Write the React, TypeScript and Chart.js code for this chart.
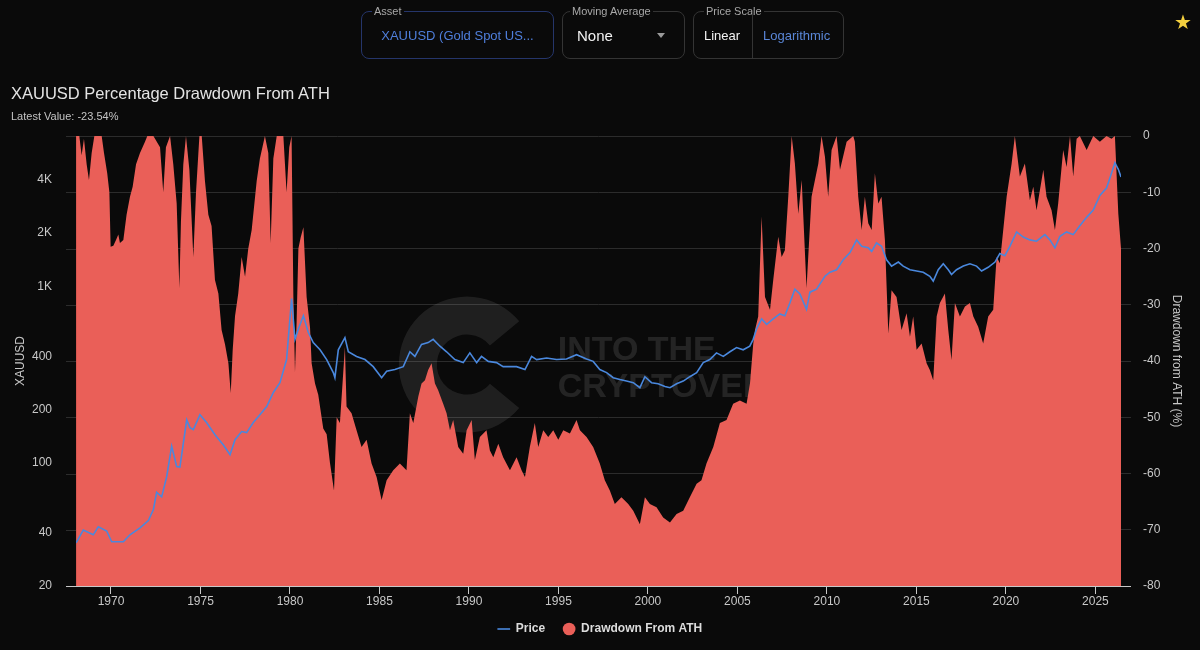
import React, { useEffect, useRef } from "react";
import { Chart, registerables } from "chart.js";

Chart.register(...registerables);

// ---------- data ----------
const ddYears = [
  1968.05, 1968.23, 1968.36, 1968.49, 1968.64, 1968.77, 1968.92, 1969.07, 1969.48, 1969.61,
  1969.79, 1969.91, 1969.98, 1970.13, 1970.28, 1970.41, 1970.5, 1970.69, 1970.87, 1971.06,
  1971.21, 1971.4, 1971.62, 1971.9, 1972.03, 1972.37, 1972.74, 1972.92, 1973.07, 1973.3,
  1973.48, 1973.67, 1973.82, 1973.91, 1974.04, 1974.19, 1974.38, 1974.6, 1974.75, 1974.94,
  1975.07, 1975.25, 1975.44, 1975.62, 1975.81, 1976.0, 1976.18, 1976.37, 1976.56, 1976.69,
  1976.8, 1976.93, 1977.11, 1977.3, 1977.49, 1977.67, 1977.86, 1978.14, 1978.32, 1978.6,
  1978.79, 1978.92, 1979.07, 1979.26, 1979.63, 1979.81, 1979.96, 1980.09, 1980.19, 1980.28,
  1980.37, 1980.47, 1980.6, 1980.75, 1980.93, 1981.12, 1981.21, 1981.4, 1981.58, 1981.86,
  1982.05, 1982.23, 1982.46, 1982.61, 1982.79, 1983.07, 1983.16, 1983.44, 1983.72, 1984.0,
  1984.28, 1984.56, 1984.84, 1985.12, 1985.4, 1985.77, 1986.14, 1986.51, 1986.7, 1986.89,
  1987.17, 1987.35, 1987.54, 1987.72, 1987.91, 1988.1, 1988.28, 1988.56, 1988.75, 1988.94,
  1989.12, 1989.4, 1989.68, 1989.87, 1990.15, 1990.33, 1990.61, 1990.98, 1991.17, 1991.36,
  1991.64, 1991.91, 1992.29, 1992.66, 1992.94, 1993.13, 1993.4, 1993.68, 1993.87, 1994.15,
  1994.43, 1994.71, 1994.99, 1995.27, 1995.64, 1996.01, 1996.2, 1996.57, 1996.94, 1997.31,
  1997.59, 1997.87, 1998.15, 1998.52, 1998.9, 1999.18, 1999.55, 1999.83, 2000.11, 2000.48,
  2000.85, 2001.23, 2001.6, 2001.97, 2002.34, 2002.72, 2002.99, 2003.27, 2003.65, 2004.02,
  2004.39, 2004.76, 2005.14, 2005.51, 2005.7, 2005.88, 2005.98, 2006.16, 2006.35, 2006.54,
  2006.82, 2007.0, 2007.28, 2007.47, 2007.65, 2007.84, 2008.03, 2008.21, 2008.4, 2008.59,
  2008.86, 2009.14, 2009.52, 2009.7, 2009.89, 2010.07, 2010.26, 2010.54, 2010.73, 2011.1,
  2011.47, 2011.56, 2011.75, 2011.94, 2012.12, 2012.31, 2012.5, 2012.68, 2012.87, 2013.05,
  2013.24, 2013.43, 2013.61, 2013.89, 2014.17, 2014.45, 2014.64, 2014.82, 2015.01, 2015.29,
  2015.57, 2015.75, 2015.94, 2016.13, 2016.31, 2016.59, 2016.78, 2016.96, 2017.15, 2017.43,
  2017.71, 2017.99, 2018.18, 2018.45, 2018.73, 2019.01, 2019.29, 2019.48, 2019.66, 2019.85,
  2020.04, 2020.32, 2020.5, 2020.78, 2021.06, 2021.34, 2021.53, 2021.71, 2021.9, 2022.09,
  2022.27, 2022.55, 2022.74, 2022.92, 2023.2, 2023.39, 2023.58, 2023.76, 2023.95, 2024.13,
  2024.51, 2024.88, 2025.25, 2025.62, 2025.9, 2026.09, 2026.28, 2026.43,
];
const ddValues = [
  0, 0, -3.4, -0.5, -5, -7.8, -3, 0, 0, -3,
  -6.6, -10, -19.7, -19.5, -18.5, -17.5, -19, -18.5, -14, -10.8,
  -9, -5, -3, -1, 0, 0, -2, -10, -2, 0,
  -5, -12, -27, -15, -5, 0, -6, -21.5, -10, 0,
  0, -8, -14, -16, -25.6, -28, -34.5, -37, -40.4, -45.7,
  -38, -32, -28, -21.5, -25, -20, -16.7, -8, -4, 0,
  -3, -19, -4, 0, 0, -10, -2, 0, -28.6, -42,
  -33, -20, -18, -16.2, -28.6, -34, -40.4, -44, -46, -52,
  -53, -58, -63, -50, -51, -37.5, -48.1, -49.3, -52.3, -55.3,
  -54, -58.2, -60.6, -64.7, -61.2, -59.4, -58.2, -59.4, -49.3, -51,
  -46.3, -44, -43.4, -41.6, -40.4, -44, -45.2, -47.6, -49.3, -52.3,
  -50.5, -55.3, -56.5, -52.3, -50.5, -57.6, -53.5, -52.3, -55.9, -57.1,
  -54.7, -57.1, -59.4, -57.1, -59.4, -60.6, -55.3, -51, -55.3, -52.3,
  -53.5, -52.3, -54, -52.3, -52.9, -50.5, -52.3, -53.5, -55.3, -58.2,
  -61.2, -63, -65.4, -64.2, -65.4, -66.6, -69, -64.2, -65.4, -66,
  -67.8, -68.7, -67.2, -66.6, -64.2, -61.8, -61.2, -58.2, -55.3, -51,
  -50.5, -47.6, -47, -47.6, -44, -37, -34.5, -32.1, -14.3, -28.6,
  -30.9, -25.6, -17.9, -21.5, -20.3, -10.8, 0, -4.9, -13.8, -7.8,
  -27, -10.8, -4.9, 0, -3.7, -10.8, -2.5, 0, -6, -1,
  0, -1, -10.8, -16.7, -10.8, -15.5, -16.7, -6.6, -12, -10.8,
  -18.5, -35.1, -27.4, -28.6, -34.5, -31.5, -35.7, -32.1, -38, -36.9,
  -40.4, -41.6, -43.4, -32.1, -29.7, -28, -34.5, -39.8, -29.7, -32.1,
  -30.3, -29.7, -32.1, -33.9, -36.9, -32.1, -30.9, -21.5, -22.6, -16.7,
  -10.8, -4.9, 0, -7.2, -4.9, -11.4, -9, -13.2, -9.6, -6,
  -10.8, -13.2, -16.7, -12, -2.5, -5.5, 0, -7.2, -0.5, 0,
  -2.5, 0, -1, 0, -0.5, 0, -13.8, -20,
];

const priceYears = [
  1968.05, 1968.45, 1969.01, 1969.29, 1969.76, 1970.04, 1970.69, 1971.06, 1971.62, 1972.09,
  1972.37, 1972.55, 1972.83, 1973.11, 1973.39, 1973.67, 1973.85, 1974.23, 1974.41, 1974.6,
  1974.97, 1975.34, 1975.81, 1976.28, 1976.65, 1976.93, 1977.3, 1977.58, 1977.95, 1978.32,
  1978.7, 1979.07, 1979.44, 1979.81, 1980.09, 1980.28, 1980.47, 1980.75, 1981.02, 1981.3,
  1981.68, 1982.05, 1982.42, 1982.51, 1982.7, 1983.07, 1983.26, 1983.72, 1984.19, 1984.65,
  1985.12, 1985.4, 1985.86, 1986.33, 1986.7, 1986.98, 1987.35, 1987.72, 1988.0, 1988.38,
  1988.75, 1989.21, 1989.68, 1990.05, 1990.43, 1990.7, 1991.08, 1991.54, 1991.91, 1992.29,
  1992.66, 1993.13, 1993.5, 1993.78, 1994.34, 1994.89, 1995.45, 1996.01, 1996.57, 1996.94,
  1997.31, 1997.69, 1998.06, 1998.43, 1998.8, 1999.18, 1999.55, 1999.83, 2000.2, 2000.57,
  2000.95, 2001.23, 2001.6, 2001.97, 2002.34, 2002.72, 2003.09, 2003.46, 2003.83, 2004.21,
  2004.58, 2004.95, 2005.32, 2005.69, 2005.88, 2006.07, 2006.35, 2006.63, 2007.0, 2007.37,
  2007.65, 2007.93, 2008.21, 2008.49, 2008.86, 2009.05, 2009.42, 2009.89, 2010.17, 2010.54,
  2010.91, 2011.29, 2011.66, 2011.94, 2012.31, 2012.5, 2012.77, 2013.05, 2013.33, 2013.61,
  2013.99, 2014.26, 2014.64, 2015.01, 2015.38, 2015.75, 2015.94, 2016.22, 2016.5, 2016.78,
  2016.96, 2017.24, 2017.62, 2017.99, 2018.36, 2018.64, 2019.01, 2019.39, 2019.66, 2019.94,
  2020.22, 2020.6, 2020.97, 2021.34, 2021.71, 2022.18, 2022.46, 2022.74, 2023.02, 2023.39,
  2023.76, 2024.13, 2024.51, 2024.88, 2025.25, 2025.62, 2025.81, 2026.09, 2026.28, 2026.43,
];
const priceValues = [
  35.1, 41.5, 39, 43.3, 41, 35.6, 35.6, 39, 42.7, 47,
  54.3, 68, 64, 83, 124, 95, 94.5, 175, 158, 154,
  187, 169, 144, 126, 111, 135, 150, 148, 169, 187,
  208, 250, 284, 384, 850, 500, 573, 680, 548, 479,
  436, 384, 324, 303, 436, 511, 425, 400, 384, 350,
  303, 330, 337, 350, 425, 400, 468, 479, 500, 457,
  425, 384, 369, 419, 369, 400, 375, 369, 350, 350,
  350, 337, 400, 384, 392, 384, 387, 409, 387, 375,
  337, 324, 303, 296, 290, 284, 266, 307, 284, 280,
  270, 266, 280, 290, 307, 324, 369, 384, 419, 400,
  425, 449, 436, 457, 500, 573, 652, 608, 652, 696,
  680, 804, 962, 905, 740, 925, 962, 1139, 1200, 1240,
  1412, 1550, 1830, 1683, 1650, 1575, 1760, 1683, 1412, 1300,
  1370, 1300, 1240, 1220, 1200, 1139, 1070, 1240, 1340, 1240,
  1165, 1240, 1300, 1340, 1300, 1220, 1280, 1370, 1530, 1490,
  1683, 2030, 1900, 1830, 1800, 1960, 1830, 1650, 1920, 2030,
  1960, 2200, 2456, 2700, 3270, 3600, 4100, 5000, 4600, 4160,
];

const xTickYears = [1970, 1975, 1980, 1985, 1990, 1995, 2000, 2005, 2010, 2015, 2020, 2025];
const priceTickValues = [20, 40, 100, 200, 400, 1000, 2000, 4000];
const X_MIN = 1968.045;
const X_MAX = 2026.43;
const PRICE_MIN = 20;
const PRICE_MAX = 7100;
const DD_MIN = -80;
const DD_MAX = 0;

// ---------- styles ----------
const BG = "#0a0a0a";
const RED = "#ea5f58";
const BLUE = "#4a88dd";
const GRID = "#2c2c2c";
const AXIS = "#c8c8c8";
const TICK = "#c8c8c8";
const FONT = "'Liberation Sans', Arial, Helvetica, sans-serif";

const edgeTicks = {
  id: "edgeTicks",
  afterDraw(chart: any) {
    const { ctx, chartArea } = chart;
    const yR = chart.scales.yDD;
    ctx.save();
    ctx.lineWidth = 1;
    ctx.strokeStyle = GRID;
    yR.ticks.forEach((t: any) => {
      const y = Math.round(yR.getPixelForValue(t.value)) + 0.5;
      ctx.beginPath();
      ctx.moveTo(chartArea.left - 10, y);
      ctx.lineTo(chartArea.left, y);
      ctx.stroke();
    });
    const yb = Math.round(chartArea.bottom) + 0.5;
    ctx.strokeStyle = AXIS;
    ctx.beginPath();
    ctx.moveTo(chartArea.left - 10, yb);
    ctx.lineTo(chartArea.right + 10, yb);
    ctx.stroke();
    ctx.restore();
  },
};

const watermark = {
  id: "watermark",
  beforeDatasetsDraw(chart: any) {
    const { ctx, chartArea } = chart;
    const w = chartArea.right - chartArea.left;
    const h = chartArea.bottom - chartArea.top;
    const cx = chartArea.left + w * 0.374;
    const cy = chartArea.top + h * 0.508;
    ctx.save();
    ctx.fillStyle = "rgba(255,255,255,0.085)";
    ctx.beginPath();
    ctx.arc(cx, cy, 68, Math.PI * 0.22, Math.PI * 1.78, false);
    ctx.arc(cx, cy, 30, Math.PI * 1.78, Math.PI * 0.22, true);
    ctx.closePath();
    ctx.fill();
    ctx.fillStyle = "rgba(255,255,255,0.11)";
    ctx.font = `bold 34px ${FONT}`;
    ctx.textBaseline = "alphabetic";
    const tx = chartArea.left + w * 0.461;
    ctx.fillText("INTO THE", tx, chartArea.top + h * 0.497);
    ctx.fillText("CRYPTOVERSE", tx, chartArea.top + h * 0.58);
    ctx.restore();
  },
};

function Field(props: { left: number; width: number; label: string; labelLeft: number; border: string; children?: any }) {
  return (
    <div
      style={{
        position: "absolute",
        left: props.left,
        top: 11,
        width: props.width,
        height: 48,
        boxSizing: "border-box",
        border: `1px solid ${props.border}`,
        borderRadius: 8,
      }}
    >
      <span
        style={{
          position: "absolute",
          top: -8,
          left: props.labelLeft,
          padding: "0 2px",
          background: BG,
          color: "#a8a8a8",
          fontSize: 11,
          lineHeight: "14px",
        }}
      >
        {props.label}
      </span>
      {props.children}
    </div>
  );
}

export default function App() {
  const canvasRef = useRef<HTMLCanvasElement | null>(null);

  useEffect(() => {
    document.body.style.background = BG;
    Chart.defaults.font.family = FONT;
    const priceData = priceYears.map((x, i) => ({ x, y: priceValues[i] }));
    const ddData = ddYears.map((x, i) => ({ x, y: ddValues[i] }));
    const chart = new Chart(canvasRef.current as HTMLCanvasElement, {
      type: "line",
      data: {
        datasets: [
          {
            label: "Price",
            data: priceData,
            yAxisID: "yPrice",
            borderColor: BLUE,
            backgroundColor: BLUE,
            borderWidth: 1.6,
            pointRadius: 0,
            pointStyle: "line",
            fill: false,
            tension: 0,
            order: 0,
          },
          {
            label: "Drawdown From ATH",
            data: ddData,
            yAxisID: "yDD",
            borderColor: RED,
            backgroundColor: RED,
            borderWidth: 0,
            pointRadius: 0,
            pointStyle: "circle",
            fill: "start",
            tension: 0,
            order: 1,
          },
        ],
      },
      options: {
        animation: false,
        responsive: false,
        devicePixelRatio: 1,
        layout: { padding: { top: 136, left: 0, right: 0, bottom: 5 } },
        plugins: {
          legend: {
            position: "bottom",
            labels: {
              usePointStyle: true,
              boxHeight: 9,
              padding: 18,
              color: "#dcdcdc",
              font: { size: 12, weight: "bold" },
            },
          },
          tooltip: { enabled: false },
        },
        scales: {
          x: {
            type: "linear",
            min: X_MIN,
            max: X_MAX,
            afterBuildTicks: (s: any) => {
              s.ticks = xTickYears.map((v) => ({ value: v }));
            },
            afterFit: (s: any) => {
              s.height = 19;
            },
            ticks: {
              color: TICK,
              font: { size: 12 },
              padding: 0,
              maxRotation: 0,
              autoSkip: false,
              callback: (v: any) => String(v),
            },
            grid: { drawOnChartArea: false, drawTicks: true, tickLength: 8, tickColor: AXIS },
            border: { display: true, color: AXIS },
          },
          yPrice: {
            type: "logarithmic",
            position: "left",
            min: PRICE_MIN,
            max: PRICE_MAX,
            afterBuildTicks: (s: any) => {
              s.ticks = priceTickValues.map((v) => ({ value: v }));
            },
            afterFit: (s: any) => {
              s.width = 76;
            },
            ticks: {
              color: TICK,
              font: { size: 12 },
              padding: 24,
              callback: (v: any) => (v >= 1000 ? `${v / 1000}K` : String(v)),
            },
            grid: { display: false, drawTicks: false, tickLength: 0 },
            border: { display: false },
            title: {
              display: true,
              text: "XAUUSD",
              color: TICK,
              font: { size: 12 },
              padding: { top: 13, bottom: 0 },
            },
          },
          yDD: {
            type: "linear",
            position: "right",
            min: DD_MIN,
            max: DD_MAX,
            afterFit: (s: any) => {
              s.width = 79;
            },
            ticks: { stepSize: 10, color: TICK, font: { size: 12 }, padding: 12 },
            grid: { color: GRID, tickColor: GRID, tickLength: 10 },
            border: { display: false },
            title: {
              display: true,
              text: "Drawdown from ATH (%)",
              color: TICK,
              font: { size: 12 },
              padding: { top: 16, bottom: 0 },
            },
          },
        },
      },
      plugins: [watermark, edgeTicks],
    } as any);
    return () => chart.destroy();
  }, []);

  return (
    <div
      style={{
        position: "absolute",
        left: 0,
        top: 0,
        width: 1200,
        height: 650,
        background: BG,
        fontFamily: FONT,
        overflow: "hidden",
      }}
    >
      <canvas ref={canvasRef} width={1200} height={650} style={{ position: "absolute", left: 0, top: 0 }} />

      <Field left={361} width={193} label="Asset" labelLeft={10} border="#25356a">
        <div
          style={{
            position: "absolute",
            inset: 0,
            display: "flex",
            alignItems: "center",
            justifyContent: "center",
            color: "#4f7fdc",
            fontSize: 13,
          }}
        >
          XAUUSD (Gold Spot US...
        </div>
      </Field>

      <Field left={562} width={123} label="Moving Average" labelLeft={7} border="#343434">
        <div
          style={{
            position: "absolute",
            left: 14,
            top: 0,
            bottom: 0,
            display: "flex",
            alignItems: "center",
            color: "#f2f2f2",
            fontSize: 15,
          }}
        >
          None
        </div>
        <div
          style={{
            position: "absolute",
            left: 94,
            top: 21,
            width: 0,
            height: 0,
            borderLeft: "4px solid transparent",
            borderRight: "4px solid transparent",
            borderTop: "5px solid #9a9a9a",
          }}
        />
      </Field>

      <Field left={693} width={151} label="Price Scale" labelLeft={10} border="#343434">
        <div
          style={{
            position: "absolute",
            left: 10,
            top: 0,
            bottom: 0,
            display: "flex",
            alignItems: "center",
            color: "#f2f2f2",
            fontSize: 13,
          }}
        >
          Linear
        </div>
        <div style={{ position: "absolute", left: 58, top: 0, bottom: 0, width: 1, background: "#343434" }} />
        <div
          style={{
            position: "absolute",
            left: 69,
            top: 0,
            bottom: 0,
            display: "flex",
            alignItems: "center",
            color: "#5a86d6",
            fontSize: 13,
          }}
        >
          Logarithmic
        </div>
      </Field>

      <div
        style={{
          position: "absolute",
          left: 1171,
          top: 10,
          width: 24,
          textAlign: "center",
          color: "#f4d03f",
          fontSize: 20,
          lineHeight: "24px",
          fontFamily: "'DejaVu Sans', sans-serif",
        }}
      >
        ★
      </div>

      <div
        style={{
          position: "absolute",
          left: 11,
          top: 83,
          fontSize: 16.5,
          lineHeight: "20px",
          color: "#e4e4e4",
          whiteSpace: "nowrap",
        }}
      >
        XAUUSD Percentage Drawdown From ATH
      </div>
      <div
        style={{
          position: "absolute",
          left: 11,
          top: 110,
          fontSize: 11,
          lineHeight: "13px",
          color: "#c4c4c4",
          whiteSpace: "nowrap",
        }}
      >
        Latest Value: -23.54%
      </div>
    </div>
  );
}
